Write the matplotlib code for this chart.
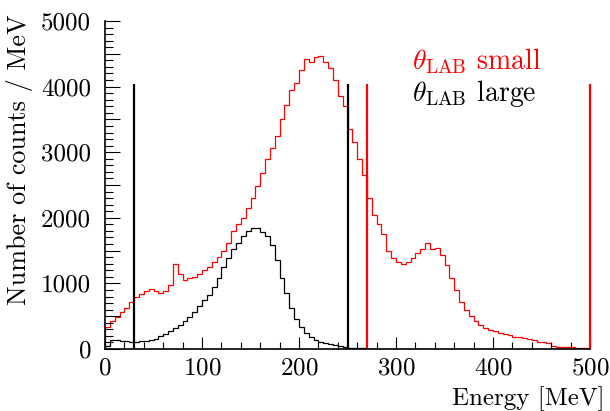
import numpy as np
import matplotlib
matplotlib.use("Agg")
import matplotlib.pyplot as plt
from matplotlib.ticker import MultipleLocator, FuncFormatter

plt.rcParams['font.family'] = ['cmr10', 'DejaVu Serif']
plt.rcParams['mathtext.fontset'] = 'cm'
plt.rcParams['axes.formatter.use_mathtext'] = True

bin_width = 5
# counts per MeV, 5 MeV bins from 0 to 500
red_small = [340, 420, 490, 560, 630, 720, 790, 840, 890, 920,
             880, 860, 880, 980, 1300, 1150, 1050, 1080, 1100, 1150,
             1200, 1250, 1320, 1400, 1500, 1620, 1800, 1900, 2000, 2150,
             2300, 2480, 2680, 2900, 3060, 3250, 3500, 3720, 3950, 4050,
             4250, 4420, 4380, 4450, 4470, 4380, 4280, 4100, 3850, 3700,
             3350, 3150, 2900, 2650, 2300, 2050, 1900, 1750, 1500, 1380,
             1320, 1300, 1320, 1380, 1460, 1520, 1620, 1530, 1540, 1440,
             1280, 1080, 900, 720, 590, 500, 430, 360, 320, 290,
             270, 245, 230, 210, 190, 180, 170, 160, 140, 110,
             105, 95, 50, 35, 30, 28, 25, 20, 18, 10]
black_large = [50, 130, 140, 125, 120, 100, 105, 115, 125, 140,
               160, 195, 230, 270, 320, 370, 420, 490, 560, 660,
               740, 830, 940, 1080, 1250, 1380, 1520, 1610, 1730, 1800,
               1850, 1850, 1790, 1720, 1580, 1350, 1080, 850, 620, 450,
               330, 240, 180, 140, 110, 85, 70, 55, 45, 35,
               20, 12, 10, 8, 6, 5, 5, 4, 4, 3,
               3, 2, 2, 2, 1, 1, 1, 1, 0, 0,
               0, 0, 0, 0, 0, 0, 0, 0, 0, 0,
               0, 0, 0, 0, 0, 0, 0, 0, 0, 0,
               0, 0, 0, 0, 0, 0, 0, 0, 0, 0]
edges = np.arange(0, 500 + bin_width, bin_width)

black_cuts = [30, 250]
red_cuts = [270, 500]
cut_top = 4040

fig = plt.figure(figsize=(6.10, 4.11), dpi=100)
ax = fig.add_axes([105/610, 62/411, 485/610, 328/411])

ax.stairs(red_small, edges, color='#ff0000', lw=0.9)
ax.stairs(black_large, edges, color='black', lw=0.9)
ax.vlines(black_cuts, 0, cut_top, color='black', lw=1.6, clip_on=False)
ax.vlines(red_cuts, 0, cut_top, color='#ff0000', lw=1.6, clip_on=False)

ax.set_xlim(0, 500)
ax.set_ylim(0, 5000)
for s in ['top', 'right']:
    ax.spines[s].set_visible(False)
for s in ['left', 'bottom']:
    ax.spines[s].set_linewidth(1.2)

ax.xaxis.set_major_locator(MultipleLocator(100))
ax.xaxis.set_minor_locator(MultipleLocator(20))
ax.yaxis.set_major_locator(MultipleLocator(500))
ax.yaxis.set_minor_locator(MultipleLocator(100))
ax.yaxis.set_major_formatter(FuncFormatter(lambda v, p: f"{int(v)}" if v % 1000 == 0 else ""))

ax.tick_params(axis='x', which='major', direction='in', length=9, width=0.8, pad=6, labelsize=18)
ax.tick_params(axis='x', which='minor', direction='in', length=5, width=0.8)
ax.tick_params(axis='y', which='major', direction='in', length=11, width=0.8, pad=10, labelsize=18)
ax.tick_params(axis='y', which='minor', direction='in', length=5.5, width=0.8)

ax.text(1.031, -0.15, 'Energy [MeV]', transform=ax.transAxes, ha='right', va='center', fontsize=18)
ax.text(-0.176, 1.02, 'Number of counts / MeV', transform=ax.transAxes, ha='center', va='top',
        rotation=90, fontsize=18.8)

ax.text(0.632, 0.877, r'$\theta_{\rm LAB}$ small', transform=ax.transAxes, ha='left', va='center',
        fontsize=20, color='#ff0000')
ax.text(0.632, 0.78, r'$\theta_{\rm LAB}$ large', transform=ax.transAxes, ha='left', va='center',
        fontsize=20, color='black')

fig.savefig('out.png', dpi=100)
